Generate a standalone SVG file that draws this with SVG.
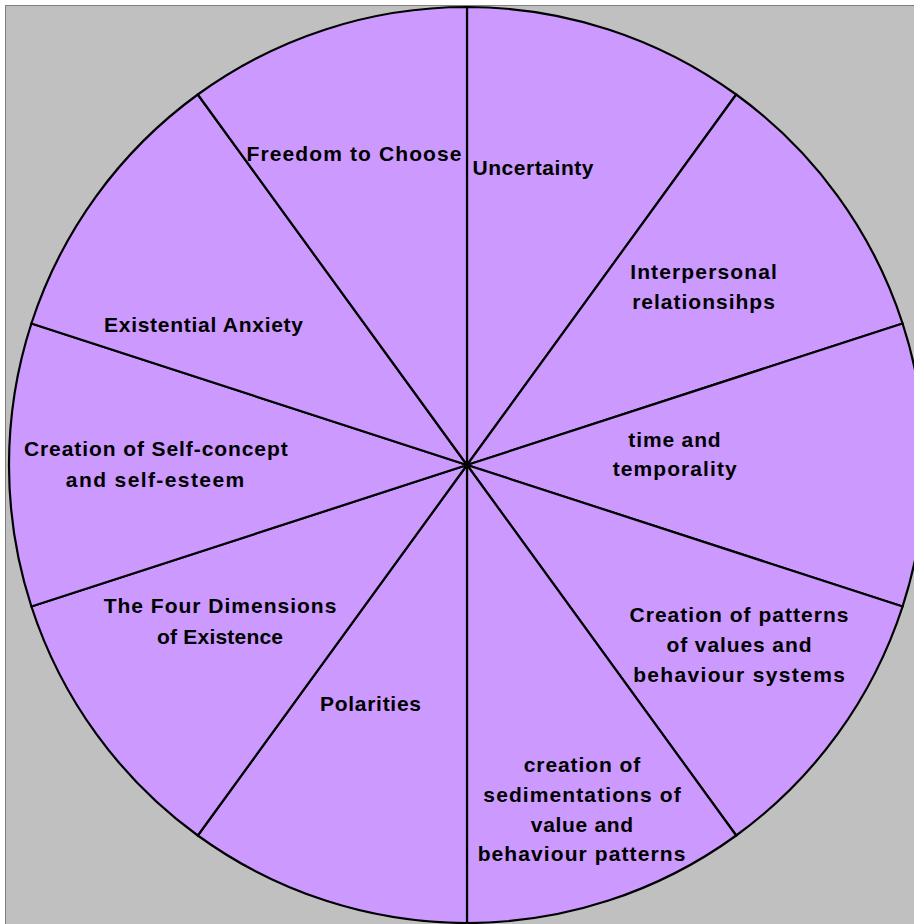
<svg xmlns="http://www.w3.org/2000/svg" width="914" height="924" viewBox="0 0 914 924">
<style>
.seg{fill:#CC99FF;stroke:#000;stroke-width:2.2;stroke-linejoin:round}
.lbl{font-family:"Liberation Sans",Arial,sans-serif;font-weight:bold;font-size:21px;fill:#000;text-anchor:middle}
</style>
<rect x="0" y="0" width="914" height="924" fill="#fff"/>
<rect x="5.5" y="5.5" width="920" height="930" fill="#C0C0C0" stroke="#808080" stroke-width="1"/>
<g id="uncertainty">
<path class="seg" d="M467 465 L467 7 A458 458 0 0 1 736.2 94.5 Z"/>
<text class="lbl" x="533" y="175" textLength="121" lengthAdjust="spacing">Uncertainty</text>
</g>
<g id="interpersonal">
<path class="seg" d="M467 465 L736.2 94.5 A458 458 0 0 1 902.6 323.5 Z"/>
<text class="lbl" x="703.5" y="278.5" textLength="146.7" lengthAdjust="spacing">Interpersonal</text>
<text class="lbl" x="703.5" y="308.5" textLength="142.7" lengthAdjust="spacing">relationsihps</text>
</g>
<g id="time">
<path class="seg" d="M467 465 L902.6 323.5 A458 458 0 0 1 902.6 606.5 Z"/>
<text class="lbl" x="674.5" y="446.5" textLength="92.3" lengthAdjust="spacing">time and</text>
<text class="lbl" x="674.7" y="475.5" textLength="124" lengthAdjust="spacing">temporality</text>
</g>
<g id="patterns">
<path class="seg" d="M467 465 L902.6 606.5 A458 458 0 0 1 736.2 835.5 Z"/>
<text class="lbl" x="739" y="621.5" textLength="219" lengthAdjust="spacing">Creation of patterns</text>
<text class="lbl" x="739" y="651.5" textLength="145" lengthAdjust="spacing">of values and</text>
<text class="lbl" x="739" y="681.5" textLength="211.7" lengthAdjust="spacing">behaviour systems</text>
</g>
<g id="sedimentations">
<path class="seg" d="M467 465 L736.2 835.5 A458 458 0 0 1 467 923 Z"/>
<text class="lbl" x="582" y="771.5" textLength="116.7" lengthAdjust="spacing">creation of</text>
<text class="lbl" x="582" y="801.5" textLength="197.3" lengthAdjust="spacing">sedimentations of</text>
<text class="lbl" x="582" y="831.5" textLength="102.3" lengthAdjust="spacing">value and</text>
<text class="lbl" x="581.5" y="861" textLength="207.7" lengthAdjust="spacing">behaviour patterns</text>
</g>
<g id="polarities">
<path class="seg" d="M467 465 L467 923 A458 458 0 0 1 197.8 835.5 Z"/>
<text class="lbl" x="370.5" y="711" textLength="101" lengthAdjust="spacing">Polarities</text>
</g>
<g id="four-dimensions">
<path class="seg" d="M467 465 L197.8 835.5 A458 458 0 0 1 31.4 606.5 Z"/>
<text class="lbl" x="220" y="613" textLength="232.7" lengthAdjust="spacing">The Four Dimensions</text>
<text class="lbl" x="220" y="643.5" textLength="126" lengthAdjust="spacing">of Existence</text>
</g>
<g id="self-concept">
<path class="seg" d="M467 465 L31.4 606.5 A458 458 0 0 1 31.4 323.5 Z"/>
<text class="lbl" x="155.8" y="455.5" textLength="263.7" lengthAdjust="spacing">Creation of Self-concept</text>
<text class="lbl" x="155" y="487" textLength="178.3" lengthAdjust="spacing">and self-esteem</text>
</g>
<g id="existential-anxiety">
<path class="seg" d="M467 465 L31.4 323.5 A458 458 0 0 1 197.8 94.5 Z"/>
<text class="lbl" x="203.5" y="332" textLength="199" lengthAdjust="spacing">Existential Anxiety</text>
</g>
<g id="freedom">
<path class="seg" d="M467 465 L197.8 94.5 A458 458 0 0 1 467 7 Z"/>
<text class="lbl" x="354" y="161" textLength="215" lengthAdjust="spacing">Freedom to Choose</text>
</g>
<g id="connectors"></g>
</svg>
